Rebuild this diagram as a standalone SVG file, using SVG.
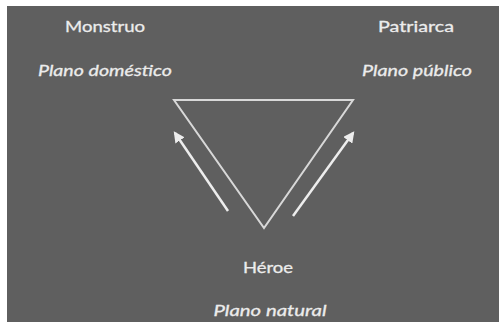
<svg xmlns="http://www.w3.org/2000/svg" width="499" height="322" viewBox="0 0 499 322">
<style>
.t{font-family:Lato,"Open Sans","DejaVu Sans",sans-serif;fill:#ececec;font-size:16px;text-anchor:middle;stroke:#ececec;stroke-width:0.3}
.i{font-style:italic}
.ln{stroke:#d8d8d8;stroke-width:2;fill:none}
.ar{stroke:#ededed;stroke-width:2.5;fill:none;marker-end:url(#ah)}
</style>
<defs>
<marker id="ah" viewBox="0 0 10 10" refX="8" refY="5" markerWidth="4.5" markerHeight="4.5" orient="auto">
<path d="M0,0 L10,5 L0,10 z" fill="#ededed"/>
</marker>
</defs>
<rect width="499" height="322" fill="#ffffff"/>
<rect x="7" y="6" width="492" height="316" fill="#5f5f5f"/>
<g id="monstruo"><text class="t" x="105" y="32" textLength="80" lengthAdjust="spacingAndGlyphs">Monstruo</text>
<text class="t i" x="105" y="76" textLength="134" lengthAdjust="spacingAndGlyphs">Plano doméstico</text></g>
<g id="patriarca"><text class="t" x="416" y="32" textLength="76" lengthAdjust="spacingAndGlyphs">Patriarca</text>
<text class="t i" x="417" y="76" textLength="110" lengthAdjust="spacingAndGlyphs">Plano público</text></g>
<g id="heroe"><text class="t" x="268" y="273" textLength="50" lengthAdjust="spacingAndGlyphs">Héroe</text>
<text class="t i" x="270" y="316" textLength="113" lengthAdjust="spacingAndGlyphs">Plano natural</text></g>
<g id="triangle"><path class="ln" d="M174,100 L353,100 L264,228 Z"/></g>
<g id="connectors">
<line class="ar" x1="228" y1="211" x2="175" y2="133"/>
<line class="ar" x1="293" y1="216" x2="353" y2="133"/>
</g>
</svg>
